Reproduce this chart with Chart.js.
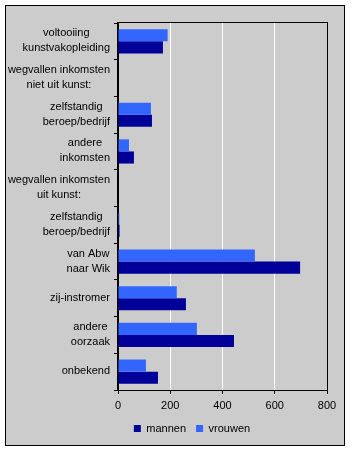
<!DOCTYPE html>
<html>
<head>
<meta charset="utf-8">
<style>
  html, body { margin: 0; padding: 0; background: #fff; }
  canvas { display: block; }
</style>
<script src="https://cdn.jsdelivr.net/npm/chart.js@4/dist/chart.umd.min.js"></script>
</head>
<body>
<canvas id="chart" width="352" height="452"></canvas>
<script>
const categories = [
  ["voltooiing", "kunstvakopleiding"],
  ["wegvallen inkomsten", "niet uit kunst:"],
  ["zelfstandig", "beroep/bedrijf"],
  ["andere", "inkomsten"],
  ["wegvallen inkomsten", "uit kunst:"],
  ["zelfstandig", "beroep/bedrijf"],
  ["van Abw", "naar Wik"],
  ["zij-instromer"],
  ["andere", "oorzaak"],
  ["onbekend"],
];
const mannen = [172, 0, 130, 61, 0, 6, 697, 260, 444, 153];
const vrouwen = [190, 0, 126, 42, 0, 5, 524, 225, 302, 107];
const xTicks = [0, 200, 400, 600, 800];

const FONT = '"Liberation Sans", Arial, sans-serif';

// grey panel with a thin black frame behind everything
const framePlugin = {
  id: "frame",
  beforeDraw(chart) {
    const ctx = chart.ctx;
    ctx.save();
    ctx.fillStyle = "#fff";
    ctx.fillRect(0, 0, chart.width, chart.height);
    ctx.fillStyle = "#cccccc";
    ctx.fillRect(5, 5, 340, 441);
    ctx.strokeStyle = "#000";
    ctx.lineWidth = 1;
    ctx.strokeRect(5.5, 5.5, 339, 440);
    ctx.restore();
  },
  afterDraw(chart) {
    const { ctx, chartArea: a } = chart;
    ctx.save();
    ctx.strokeStyle = "#000";
    ctx.lineWidth = 1;
    ctx.strokeRect(Math.round(a.left) - 0.5, Math.round(a.top) - 0.5,
      Math.round(a.right - a.left) + 1, Math.round(a.bottom - a.top) + 1);
    ctx.restore();
  },
};

// category labels: lines centred on each other, block right-aligned to the axis
const labelPlugin = {
  id: "catLabels",
  afterDraw(chart) {
    const ctx = chart.ctx;
    const y = chart.scales.y;
    const right = y.right - 8;
    ctx.save();
    ctx.font = "11px " + FONT;
    ctx.fillStyle = "#000";
    ctx.textAlign = "center";
    ctx.textBaseline = "middle";
    chart.data.labels.forEach((lines, i) => {
      const cy = y.getPixelForTick(i);
      const w = Math.max(...lines.map((l) => ctx.measureText(l).width));
      const cx = right - w / 2;
      lines.forEach((l, j) => {
        ctx.fillText(l, cx, cy - 0.5 + (j - (lines.length - 1) / 2) * 15);
      });
    });
    ctx.restore();
  },
};

new Chart(document.getElementById("chart"), {
  type: "bar",
  data: {
    labels: categories,
    datasets: [
      { label: "vrouwen", data: vrouwen, backgroundColor: "#3366ff" },
      { label: "mannen", data: mannen, backgroundColor: "#000099" },
    ],
  },
  options: {
    indexAxis: "y",
    responsive: false,
    animation: false,
    devicePixelRatio: 1,
    datasets: { bar: { categoryPercentage: 0.66, barPercentage: 1.0 } },
    layout: { padding: { left: 57, top: 23, right: 25, bottom: 8 } },
    scales: {
      x: {
        min: xTicks[0],
        max: xTicks[xTicks.length - 1],
        afterFit: (s) => { s.height = 23; },
        ticks: { stepSize: 200, color: "#000", font: { family: FONT, size: 11 }, padding: 5 },
        grid: { color: "#fff", tickColor: "#000", tickLength: 4 },
        border: { color: "#000" },
      },
      y: {
        afterFit: (s) => { s.width = 61; },
        ticks: { display: false },
        grid: { drawOnChartArea: false, tickColor: "#000", tickLength: 4, offset: true },
        border: { color: "#000" },
      },
    },
    plugins: {
      legend: {
        position: "bottom",
        reverse: true,
        labels: {
          boxWidth: 7,
          boxHeight: 7,
          padding: 10,
          color: "#000",
          font: { family: FONT, size: 11 },
        },
      },
      tooltip: { enabled: false },
    },
  },
  plugins: [framePlugin, labelPlugin],
});
</script>
</body>
</html>
